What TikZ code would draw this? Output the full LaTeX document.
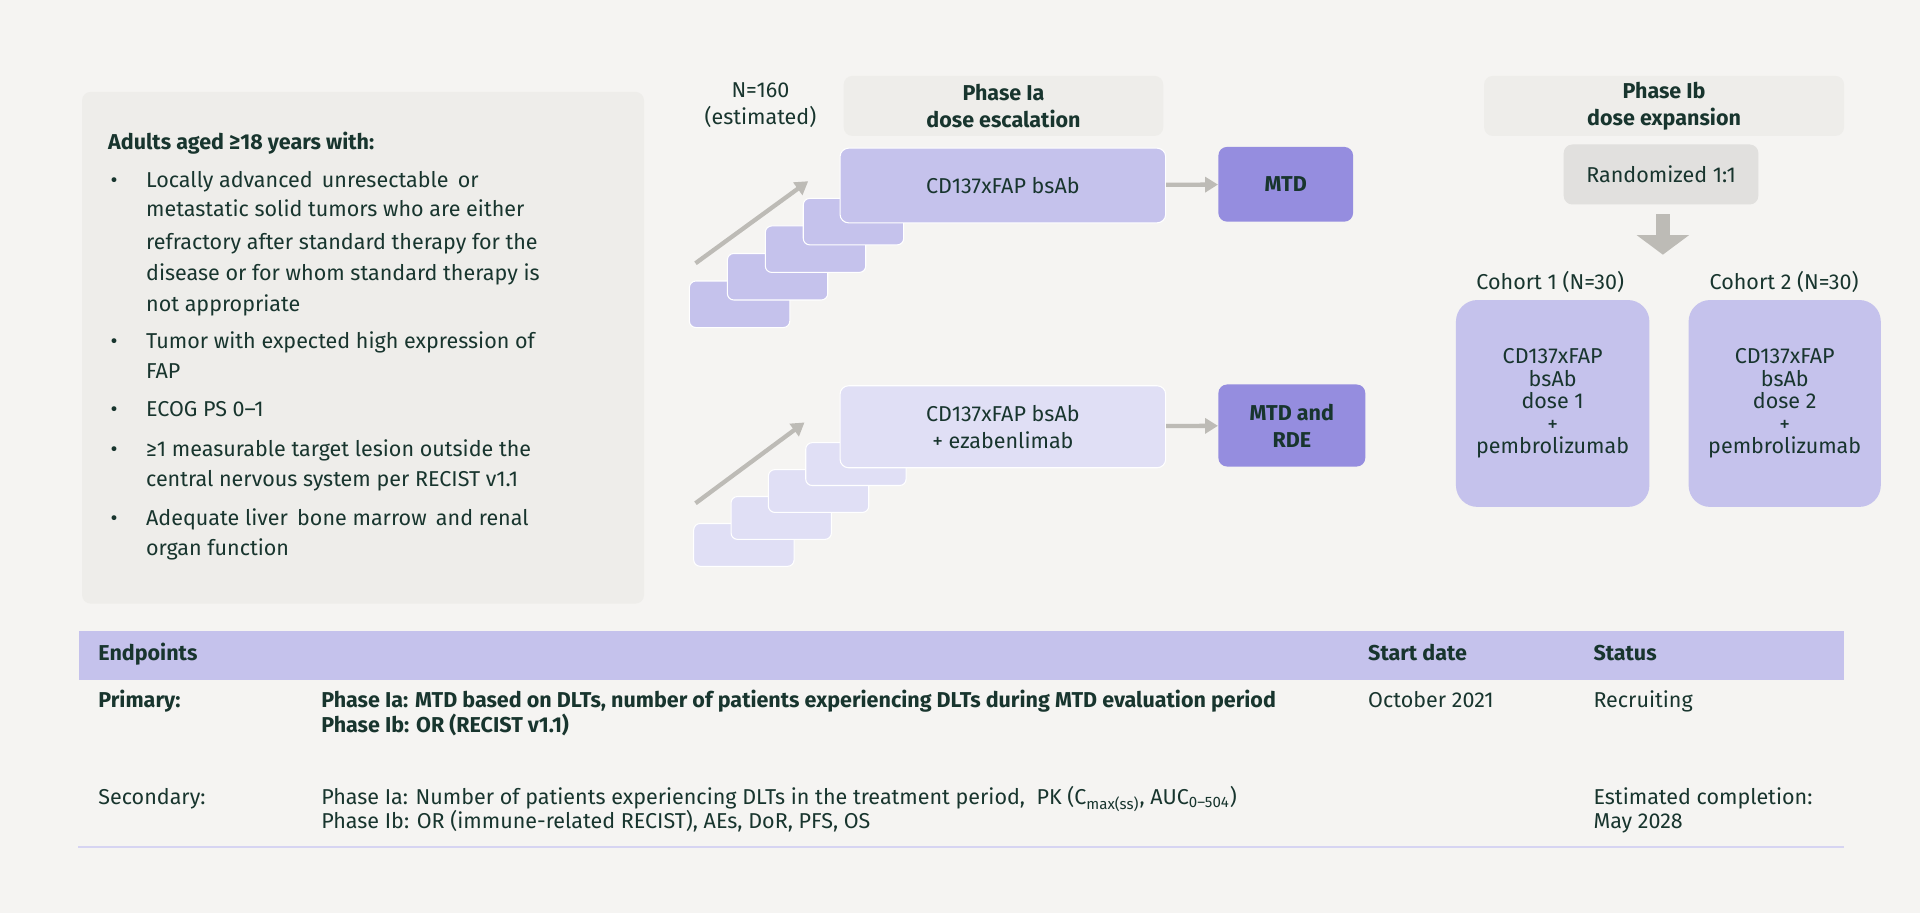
\documentclass[tikz,border=0pt]{standalone}
\usepackage{fontspec}
\setmainfont{Fira Sans}
\usetikzlibrary{arrows.meta}
\usetikzlibrary{positioning}
\definecolor{ink}{HTML}{18352E}
\definecolor{bgc}{HTML}{F5F4F2}
\definecolor{panel}{HTML}{EEEDEA}
\definecolor{lav}{HTML}{C5C2EC}
\definecolor{lavlt}{HTML}{E0DFF5}
\definecolor{lavdk}{HTML}{958DDF}
\definecolor{arr}{HTML}{BDBBB6}
\tikzset{
  txt/.style={text=ink,font=\fontsize{10}{12.5}\selectfont,inner sep=0pt},
  lft/.style={txt,anchor=base west},
  hdr/.style={rectangle,rounded corners=4pt,fill=panel,txt,align=center,font=\fontsize{10}{12.5}\selectfont\bfseries},
  dosestep/.style={rectangle,rounded corners=3pt,draw=white,line width=0.5pt,minimum width=1.64cm,minimum height=0.76cm},
  arm/.style={rectangle,rounded corners=4pt,draw=white,line width=0.5pt,minimum width=5.32cm,txt,align=center},
  res/.style={rectangle,rounded corners=4pt,fill=lavdk,txt,align=center,font=\fontsize{10}{12.5}\selectfont\bfseries},
  coh/.style={rectangle,rounded corners=10pt,fill=lav,minimum height=3.38cm,txt,align=center,font=\fontsize{10}{10.5}\selectfont},
  flow/.style={draw=arr,line width=2pt,-{Triangle[width=7pt,length=6pt]}}
}
\begin{document}
\begin{tikzpicture}[x=0.02cm,y=-0.02cm]
\fill[bgc] (0,0) rectangle (1568,746);
% eligibility
\node at (296.5,284)[rectangle,rounded corners=4pt,fill=panel,minimum width=9.18cm,minimum height=8.36cm](elig){};
\node at (88,122)[lft,font=\fontsize{10}{12.5}\selectfont\bfseries](eligh){Adults aged ≥18 years with:};
\foreach \y/\t in {153/Locally advanced\, unresectable\, or,
  177/metastatic solid tumors who are either,
  204/refractory after standard therapy for the,
  229/disease or for whom standard therapy is,
  254/not appropriate,
  285/Tumor with expected high expression of,
  309/FAP,
  340/ECOG PS 0–1,
  373/≥1 measurable target lesion outside the,
  397/central nervous system per RECIST v1.1,
  429/Adequate liver\, bone marrow\, and renal,
  454/organ function}
  \node at (119,\y)[lft](l\y){\t};
\foreach \y in {153,285,340,373,429}
  \node at (90,\y)[lft](b\y){•};
% phase Ia
\node at (621,86)[txt,align=center](nest){N=160\\(estimated)};
\node at (819.5,86.5)[hdr,minimum width=5.22cm,minimum height=0.98cm](pia){Phase Ia\\dose escalation};
\foreach \i/\x/\y in {1/604/248.5,2/635/226,3/666/203.5,4/697/181}
  \node at (\x,\y)[dosestep,fill=lav](sa\i){};
\node at (819,151.5)[arm,fill=lav,minimum height=1.22cm](armA){CD137xFAP bsAb};
\node at (1050,150.5)[res,minimum width=2.2cm,minimum height=1.22cm](mtd){MTD};
\foreach \i/\x/\y in {1/607.5/445,2/638/423,3/668.5/401,4/699/379}
  \node at (\x,\y)[dosestep,fill=lavlt,minimum height=0.7cm](sb\i){};
\node at (819,348.5)[arm,fill=lavlt,minimum height=1.34cm](armB){CD137xFAP bsAb\\+ ezabenlimab};
\node at (1055,347.5)[res,minimum width=2.4cm,minimum height=1.34cm](rde){MTD and\\RDE};
\coordinate (ua) at (568,215);
\coordinate (ub) at (660,148);
\coordinate (la) at (568,411);
\coordinate (lb) at (657,345);
\draw[flow] (ua) -- (ub);
\draw[flow] (la) -- (lb);
\draw[flow] (armA) -- (mtd);
\draw[flow] (armB) -- (rde);
% phase Ib
\node at (1359,86.5)[hdr,minimum width=5.88cm,minimum height=0.98cm](pib){Phase Ib\\dose expansion};
\node at (1356.5,142.5)[rectangle,rounded corners=4pt,fill=arr!45,minimum width=3.18cm,minimum height=0.98cm,txt](rand){Randomized 1:1};
\coordinate (da) at (1358,175);
\coordinate (db) at (1358,208);
\draw[draw=arr,line width=0.24cm,-{Triangle[width=0.84cm,length=0.32cm]}] (da) -- (db);
\node at (1266,230)[txt](c1l){Cohort 1 (N=30)};
\node at (1457,230)[txt](c2l){Cohort 2 (N=30)};
\node at (1268,329.5)[coh,minimum width=3.16cm](c1){CD137xFAP\\bsAb\\dose 1\\+\\pembrolizumab};
\node at (1457.5,329.5)[coh,minimum width=3.14cm](c2){CD137xFAP\\bsAb\\dose 2\\+\\pembrolizumab};
% endpoints table
\node at (785,535)[rectangle,fill=lav,minimum width=28.84cm,minimum height=0.8cm](thead){};
\node at (80,539)[lft,font=\fontsize{10}{12.5}\selectfont\bfseries](te){Endpoints};
\node at (1117,539)[lft,font=\fontsize{10}{12.5}\selectfont\bfseries](ts){Start date};
\node at (1301,539)[lft,font=\fontsize{10}{12.5}\selectfont\bfseries](tst){Status};
\node at (80,578)[lft,font=\fontsize{10}{12.5}\selectfont\bfseries](pri){Primary:};
\node at (262,578)[lft,font=\fontsize{10}{12.5}\selectfont\bfseries](pri1){Phase Ia: MTD based on DLTs, number of patients experiencing DLTs during MTD evaluation period};
\node at (262,598)[lft,font=\fontsize{10}{12.5}\selectfont\bfseries](pri2){Phase Ib: OR (RECIST v1.1)};
\node at (1117,578)[lft](sd){October 2021};
\node at (1301,578)[lft](stat){Recruiting};
\node at (80,657)[lft](sec){Secondary:};
\node at (262,657)[lft](sec1){Phase Ia: Number of patients experiencing DLTs in the treatment period,\ \ PK (C\textsubscript{max(ss)}, AUC\textsubscript{0–504})};
\node at (262,677)[lft](sec2){Phase Ib: OR (immune-related RECIST), AEs, DoR, PFS, OS};
\node at (1301,657)[lft](comp1){Estimated completion:};
\node at (1301,677)[lft](comp2){May 2028};
\coordinate (rl) at (64,692);
\coordinate (rr) at (1506,692);
\draw[lav!70,line width=0.8pt] (rl) -- (rr);
\end{tikzpicture}
\end{document}
